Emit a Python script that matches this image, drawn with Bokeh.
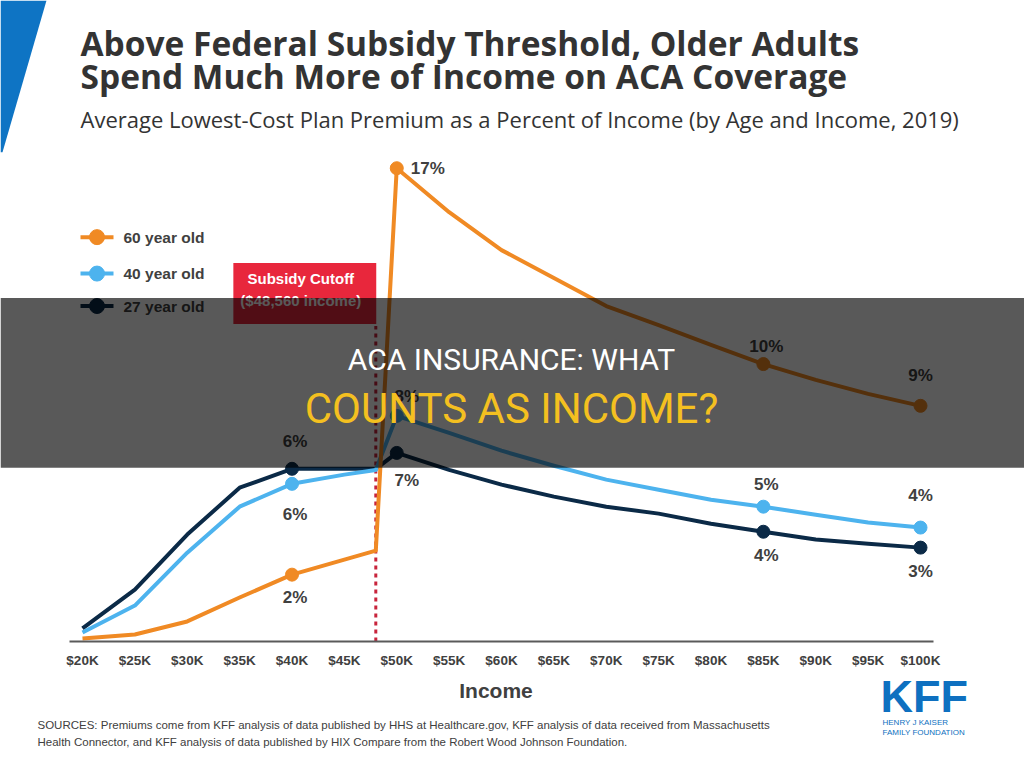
from bokeh.plotting import figure
from bokeh.layouts import column
from bokeh.models import Range1d, FixedTicker, Label, BoxAnnotation
from bokeh.core.properties import value
from bokeh.embed import file_html
from bokeh.resources import INLINE

# ---------------- data ----------------
INCOME_K = [20, 25, 30, 35, 40, 45, 48, 50, 55, 60, 65, 70, 75, 80, 85, 90, 95, 100]
AGE_60 = [0.11, 0.25, 0.72, 1.58, 2.40, 2.94, 3.26, 16.99, 15.41, 14.05, 13.05, 12.04,
          11.36, 10.65, 9.96, 9.39, 8.89, 8.46]
AGE_40 = [0.32, 1.29, 3.19, 4.84, 5.66, 5.99, 6.16, 8.10, 7.49, 6.85, 6.31, 5.81,
          5.45, 5.09, 4.84, 4.55, 4.27, 4.09]
AGE_27 = [0.47, 1.86, 3.84, 5.52, 6.20, 6.20, 6.20, 6.77, 6.16, 5.63, 5.20, 4.84,
          4.59, 4.23, 3.94, 3.66, 3.51, 3.37]
SERIES_NAMES = ["60 year old", "40 year old", "27 year old"]
TICKS_K = [20, 25, 30, 35, 40, 45, 50, 55, 60, 65, 70, 75, 80, 85, 90, 95, 100]
TICK_LABELS = ["$20K", "$25K", "$30K", "$35K", "$40K", "$45K", "$50K", "$55K", "$60K",
               "$65K", "$70K", "$75K", "$80K", "$85K", "$90K", "$95K", "$100K"]
CUTOFF_K = 48
CUTOFF_TEXT = "Subsidy Cutoff\n($48,560 income)"
# labelled points per series: (income, text)
LABELS_60 = [(40, "2%"), (50, "17%"), (85, "10%"), (100, "9%")]
LABELS_40 = [(40, "6%"), (50, "8%"), (85, "5%"), (100, "4%")]
LABELS_27 = [(40, "6%"), (50, "7%"), (85, "4%"), (100, "3%")]

TITLE_1 = "Above Federal Subsidy Threshold, Older Adults"
TITLE_2 = "Spend Much More of Income on ACA Coverage"
SUBTITLE = "Average Lowest-Cost Plan Premium as a Percent of Income (by Age and Income, 2019)"
X_LABEL = "Income"
SOURCE_1 = ("SOURCES: Premiums come from KFF analysis of data published by HHS at Healthcare.gov, "
            "KFF analysis of data received from Massachusetts")
SOURCE_2 = ("Health Connector, and KFF analysis of data published by HIX Compare from the "
            "Robert Wood Johnson Foundation.")
BAND_1 = "ACA INSURANCE: WHAT"
BAND_2 = "COUNTS AS INCOME?"
LOGO = "KFF"
LOGO_SUB = ["HENRY J KAISER", "FAMILY FOUNDATION"]

# ---------------- styles / layout ----------------
ORANGE = "#F08A24"
LBLUE = "#4DB3EE"
NAVY = "#0B2A47"
TXT = "#404040"
KFF_BLUE = "#0E70C0"
W = 1024
H1, H2 = 670, 92
X0_REF, PX_K = 82.0, 10.475     # px of $20K, px per $1K
Y0_REF, PX_PCT = 642.0, 27.9    # px of 0%, px per 1%


def dx(X):
    return 20 + (X - X0_REF) / PX_K


def dy(Y):
    return (Y0_REF - Y) / PX_PCT


p = figure(width=W, height=H1, output_backend="svg", toolbar_location=None,
           x_range=Range1d(dx(0), dx(W)), y_range=Range1d(0, dy(0)),
           y_axis_location=None, min_border_left=0, min_border_right=0,
           min_border_top=0, min_border_bottom=H1 - int(Y0_REF),
           outline_line_color=None, background_fill_color="white",
           border_fill_color="white")
p.grid.visible = False

ax = p.xaxis[0]
ax.ticker = FixedTicker(ticks=TICKS_K)
ax.major_label_overrides = {k: s for k, s in zip(TICKS_K, TICK_LABELS)}
ax.bounds = (dx(69), dx(933))
ax.axis_line_color = "#5a5a5a"
ax.axis_line_width = 2
ax.major_tick_line_color = None
ax.minor_tick_line_color = None
ax.major_label_standoff = 5
ax.major_label_text_font = "Liberation Sans"
ax.major_label_text_font_style = "bold"
ax.major_label_text_font_size = "13.5px"
ax.major_label_text_color = TXT

# decorative blue corner
p.patch([dx(0), dx(46), dx(2), dx(0)], [dy(0), dy(0), dy(152), dy(152)],
        color="#0E74C4", line_color=None)

# titles
for txt, yb, size, style in [(TITLE_1, 43, "33.5px", "bold"), (TITLE_2, 76, "33.5px", "bold"),
                             (SUBTITLE, 119, "22px", "normal")]:
    p.add_layout(Label(x=dx(80), y=dy(yb), text=txt, text_font="Open Sans",
                       text_font_style=style, text_font_size=size, text_color="#333333",
                       text_baseline="alphabetic"))

# cutoff
p.segment(x0=[CUTOFF_K], y0=[0], x1=[CUTOFF_K], y1=[dy(326)], line_color="#C8243C",
          line_width=3, line_dash="4 4")
p.add_layout(Label(x=CUTOFF_K, y=dy(293.5), x_offset=-71, text=CUTOFF_TEXT,
                   text_align="center", text_baseline="middle", text_color="white",
                   text_font="Liberation Sans", text_font_style="bold",
                   text_font_size="15px", text_line_height=1.3,
                   background_fill_color="#E8273C", padding=(7, 15, 7, 15)))

# series
series = [(AGE_27, NAVY, LABELS_27), (AGE_40, LBLUE, LABELS_40), (AGE_60, ORANGE, LABELS_60)]
label_offsets = {
    id(LABELS_60): [(3, 23, "center"), (14, 0, "left"), (3, -18, "center"), (0, -30, "center")],
    id(LABELS_40): [(3, 31, "center"), (10, -19, "center"), (3, -22, "center"), (0, -32, "center")],
    id(LABELS_27): [(3, -27, "center"), (10, 28, "center"), (3, 24, "center"), (0, 24, "center")],
}
for vals, col, labs in series:
    p.line(INCOME_K, vals, line_color=col, line_width=4, line_join="round")
for vals, col, labs in series:
    mx = [k for k, _ in labs]
    my = [vals[INCOME_K.index(k)] for k in mx]
    p.scatter(mx, my, size=13, color=col)
    offs = label_offsets[id(labs)]
    for (k, t), (ox, oy, al), yv in zip(labs, offs, my):
        p.text(x=[k], y=[yv], text=[t], x_offset=ox, y_offset=oy, text_align=al,
               text_baseline="middle", text_font=value("Liberation Sans"),
               text_font_style="bold", text_font_size="17px", text_color=TXT)

# legend (drawn manually)
leg_y = [237, 273.5, 306]
for name, col, yy in zip(SERIES_NAMES, [ORANGE, LBLUE, NAVY], leg_y):
    p.segment(x0=[dx(80)], y0=[dy(yy)], x1=[dx(113)], y1=[dy(yy)], line_color=col, line_width=4)
    p.scatter([dx(96.5)], [dy(yy)], size=15, color=col)
    p.text(x=[dx(123)], y=[dy(yy)], text=[name], text_baseline="middle",
           text_font=value("Liberation Sans"), text_font_style="bold",
           text_font_size="15.5px", text_color=TXT)

# dark overlay band with headline
p.add_layout(BoxAnnotation(top=dy(298), bottom=dy(468), fill_color="#000000",
                           fill_alpha=0.65, line_color=None, level="overlay"))
p.add_layout(Label(x=dx(511), y=dy(360), text=BAND_1, text_align="center",
                   text_baseline="alphabetic", text_font="Roboto", text_font_size="30px",
                   text_color="white", level="overlay"))
p.add_layout(Label(x=dx(511), y=dy(409), text=BAND_2, text_align="center",
                   text_baseline="alphabetic", text_font="Roboto", text_font_size="42px",
                   text_color="#F4C020", level="overlay"))

# ---------------- footer figure: axis title, sources, logo ----------------
q = figure(width=W, height=H2, output_backend="svg", toolbar_location=None,
           x_range=Range1d(0, W), y_range=Range1d(H1 + H2, H1),
           x_axis_location=None, y_axis_location=None, min_border=0,
           outline_line_color=None, background_fill_color="white",
           border_fill_color="white")
q.grid.visible = False
q.text(x=[495.5], y=[690], text=[X_LABEL], text_align="center", text_baseline="middle",
       text_font=value("Liberation Sans"), text_font_style="bold", text_font_size="21px",
       text_color=TXT)
q.text(x=[37, 37], y=[724, 741], text=[SOURCE_1, SOURCE_2], text_baseline="middle",
       text_font=value("Liberation Sans"), text_font_size="11.5px", text_color=TXT)
q.text(x=[880], y=[696], text=[LOGO], text_baseline="middle",
       text_font=value("Liberation Sans"), text_font_style="bold", text_font_size="45px",
       text_color=KFF_BLUE)
q.text(x=[882, 882], y=[722, 732], text=LOGO_SUB, text_baseline="middle",
       text_font=value("Liberation Sans"), text_font_size="8px", text_color=KFF_BLUE)

open("out.html", "w").write(file_html(column(p, q), INLINE))
